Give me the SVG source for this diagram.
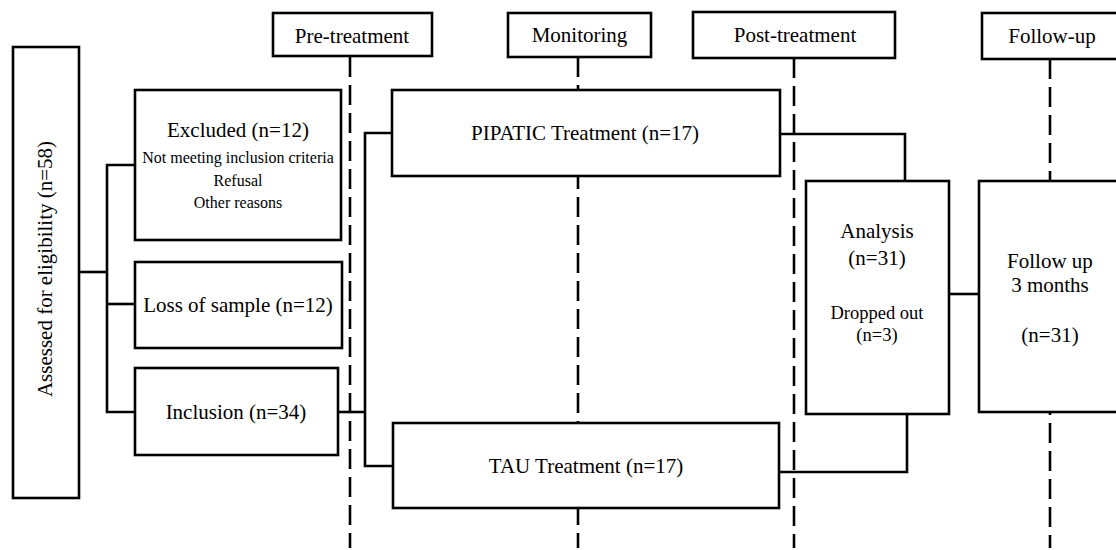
<svg xmlns="http://www.w3.org/2000/svg" width="1116" height="550" viewBox="0 0 1116 550">
<style>
.box{fill:#fff;stroke:#000;stroke-width:2.6}
.ln{fill:none;stroke:#000;stroke-width:2.6}
.dash{fill:none;stroke:#000;stroke-width:2.6;stroke-dasharray:20 8}
text{font-family:"Liberation Serif","Times New Roman",serif;fill:#000;text-anchor:middle}
.t{font-size:21px}
.s{font-size:16px}
.m{font-size:18.5px}
</style>
<rect width="1116" height="550" fill="#fff"/>
<g id="timelines">
<line class="dash" x1="350" y1="57" x2="350" y2="548"/>
<line class="dash" x1="578" y1="57" x2="578" y2="548"/>
<line class="dash" x1="794" y1="58" x2="794" y2="548"/>
<line class="dash" x1="1050" y1="59" x2="1050" y2="548"/>
</g>
<g id="connectors">
<polyline class="ln" points="79,272 107,272"/>
<polyline class="ln" points="135,165 107,165 107,412 135,412"/>
<line class="ln" x1="107" y1="304" x2="135" y2="304"/>
<polyline class="ln" points="338,412 365,412"/>
<polyline class="ln" points="392,133 365,133 365,466 393,466"/>
<polyline class="ln" points="780,134 905,134 905,181"/>
<polyline class="ln" points="779,472 907,472 907,414"/>
<line class="ln" x1="949" y1="294" x2="979" y2="294"/>
</g>
<g id="pre-treatment">
<rect class="box" x="273" y="13" width="159" height="43"/>
<text class="t" x="352" y="43">Pre-treatment</text>
</g>
<g id="monitoring">
<rect class="box" x="508" y="13" width="143" height="44"/>
<text class="t" x="579.5" y="42">Monitoring</text>
</g>
<g id="post-treatment">
<rect class="box" x="693" y="12" width="202" height="46"/>
<text class="t" x="795" y="42">Post-treatment</text>
</g>
<g id="follow-up-header">
<rect class="box" x="982" y="13" width="140" height="46"/>
<text class="t" x="1052" y="43">Follow-up</text>
</g>
<g id="assessed">
<rect class="box" x="13" y="47" width="66" height="451"/>
<text class="t" transform="translate(52,269) rotate(-90)">Assessed for eligibility (n=58)</text>
</g>
<g id="excluded">
<rect class="box" x="135" y="90" width="206" height="150"/>
<text class="t" x="238" y="137">Excluded (n=12)</text>
<text class="s" x="238" y="163">Not meeting inclusion criteria</text>
<text class="s" x="238" y="186">Refusal</text>
<text class="s" x="238" y="208">Other reasons</text>
</g>
<g id="loss">
<rect class="box" x="135" y="262" width="207" height="86"/>
<text class="t" x="238" y="312">Loss of sample (n=12)</text>
</g>
<g id="inclusion">
<rect class="box" x="135" y="368" width="203" height="87"/>
<text class="t" x="236" y="419">Inclusion (n=34)</text>
</g>
<g id="pipatic">
<rect class="box" x="392" y="90" width="388" height="86"/>
<text class="t" x="585" y="140">PIPATIC Treatment (n=17)</text>
</g>
<g id="tau">
<rect class="box" x="393" y="423" width="386" height="85"/>
<text class="t" x="586" y="473">TAU Treatment (n=17)</text>
</g>
<g id="analysis">
<rect class="box" x="806" y="181" width="143" height="233"/>
<text class="t" x="877" y="238">Analysis</text>
<text class="t" x="877" y="265">(n=31)</text>
<text class="m" x="877" y="319">Dropped out</text>
<text class="m" x="877" y="341">(n=3)</text>
</g>
<g id="follow-up">
<rect class="box" x="979" y="181" width="145" height="231"/>
<text class="t" x="1050" y="268">Follow up</text>
<text class="t" x="1050" y="292">3 months</text>
<text class="t" x="1050" y="342">(n=31)</text>
</g>
</svg>
